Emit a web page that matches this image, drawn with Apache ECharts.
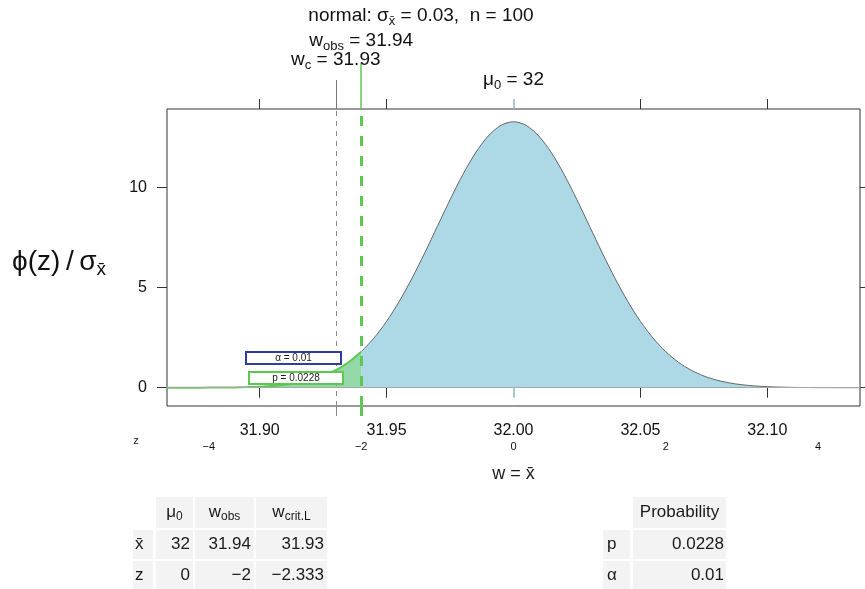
<!DOCTYPE html>
<html>
<head>
<meta charset="utf-8">
<script src="https://cdn.jsdelivr.net/npm/echarts@6/dist/echarts.min.js"></script>
<style>
html,body{margin:0;padding:0;background:#fff;}
#main{width:865px;height:589px;}
</style>
</head>
<body>
<div id="main"></div>
<script>
// ---------- data ----------
const mu0 = 32;
const sigma = 0.03;
const nObs = 100;
const wObs = 31.94;
const wCrit = 31.93;
const pValue = '0.0228';
const alphaValue = '0.01';

const xGrid = [31.860,31.865,31.870,31.875,31.880,31.885,31.890,31.895,31.900,31.905,31.910,31.915,31.920,31.925,31.930,31.935,31.940,31.945,31.950,31.955,31.960,31.965,31.970,31.975,31.980,31.985,31.990,31.995,32.000,32.005,32.010,32.015,32.020,32.025,32.030,32.035,32.040,32.045,32.050,32.055,32.060,32.065,32.070,32.075,32.080,32.085,32.090,32.095,32.100,32.105,32.110,32.115,32.120,32.125,32.130,32.135,32.140];
const density = [0.0002,0.0005,0.0011,0.0023,0.0045,0.0086,0.0160,0.0291,0.0514,0.0884,0.1477,0.2402,0.3799,0.5843,0.8741,1.2717,1.7997,2.4768,3.3159,4.3172,5.4670,6.7332,8.0657,9.3969,10.6483,11.7356,12.5795,13.1147,13.2981,13.1147,12.5795,11.7356,10.6483,9.3969,8.0657,6.7332,5.4670,4.3172,3.3159,2.4768,1.7997,1.2717,0.8741,0.5843,0.3799,0.2402,0.1477,0.0884,0.0514,0.0291,0.0160,0.0086,0.0045,0.0023,0.0011,0.0005,0.0002];

const xTicks = [31.90, 31.95, 32.00, 32.05, 32.10];
const xTicksPlain = [31.90, 31.95, 32.05, 32.10];
const zTicks = [-4, -2, 0, 2, 4];
const zTickLabels = ['\u22124', '\u22122', '0', '2', '4'];
const yTicks = [0, 5, 10];

const tableHeader = ['{n|\u03bc}{s|0}', '{n|w}{s|obs}', '{n|w}{s|crit.L}'];
const tableRowNames = ['x\u0304', 'z'];
const tableXbarRow = ['32', '31.94', '31.93'];
const tableZRow = ['0', '\u22122', '\u22122.333'];
const probHeader = 'Probability';
const probNames = ['p', '\u03b1'];
const probValues = [pValue, alphaValue];

// ---------- layout ----------
const FONT = '"Liberation Sans", Arial, Helvetica, sans-serif';
const xMin = 31.8635, xMax = 32.1365;
const yMin = -0.915, yMax = 13.935;
const C_BLUE = '#ADD8E6';
const C_GREEN = '#5cc850';
const C_MINT = '#93d8a6';
const C_TICKBLUE = '#8fb4c6';
const C_GRAY = '#8a8a8a';

const leftPart = [], rightPart = [];
xGrid.forEach((x, i) => {
  if (x <= wObs + 1e-9) leftPart.push([x, density[i]]);
  if (x >= wObs - 1e-9) rightPart.push([x, density[i]]);
});
const zPos = zTicks.map(z => +(mu0 + z * sigma).toFixed(6));

function tickAxis(position, vals, color, len, width, label) {
  return {
    type: 'value', gridIndex: 0, position, min: xMin, max: xMax,
    axisLine: { show: false }, splitLine: { show: false },
    axisTick: vals ? { show: true, inside: false, customValues: vals, length: len, lineStyle: { color, width } } : { show: false },
    axisLabel: label || { show: false }
  };
}

const rich = {
  n: { fontSize: 17, fontFamily: FONT, fill: '#1a1a1a', lineHeight: 21 },
  s: { fontSize: 12, fontFamily: FONT, fill: '#1a1a1a', lineHeight: 10, verticalAlign: 'bottom' }
};
const richT = {
  n: { fontSize: 19, fontFamily: FONT, fill: '#111', lineHeight: 24 },
  s: { fontSize: 13, fontFamily: FONT, fill: '#111', lineHeight: 12, verticalAlign: 'bottom' }
};

const chart = echarts.init(document.getElementById('main'));
chart.setOption({
  animation: false,
  backgroundColor: '#fff',
  grid: { left: 167, right: 5, top: 109, bottom: 183, show: true, borderColor: '#333', borderWidth: 1, backgroundColor: 'transparent' },
  xAxis: [
    tickAxis('bottom', xTicksPlain, '#333', 10, 1, {
      show: true, customValues: xTicks, margin: 17, fontSize: 16, fontFamily: FONT, color: '#111',
      formatter: v => (+v).toFixed(2)
    }),
    tickAxis('bottom', [mu0], C_TICKBLUE, 10, 1.5),
    tickAxis('bottom', [wCrit], C_GRAY, 10, 1),
    tickAxis('bottom', [wObs], C_GREEN, 10, 3),
    tickAxis('bottom', null, '#333', 0, 1, {
      show: true, customValues: zPos, margin: 35, fontSize: 11, fontFamily: FONT, color: '#111',
      formatter: v => { const i = zPos.findIndex(p => Math.abs(p - v) < 1e-6); return i >= 0 ? zTickLabels[i] : ''; }
    }),
    tickAxis('top', xTicksPlain, '#333', 10, 1),
    tickAxis('top', [mu0], C_TICKBLUE, 10, 1.5),
    tickAxis('top', [wCrit], '#777', 29, 1),
    tickAxis('top', [wObs], C_GREEN, 46, 1.5)
  ],
  yAxis: [
    {
      type: 'value', position: 'left', min: yMin, max: yMax,
      axisLine: { show: false }, splitLine: { show: false },
      axisTick: { show: true, customValues: yTicks, length: 10, lineStyle: { color: '#333' } },
      axisLabel: { show: true, customValues: yTicks, margin: 20, fontSize: 16, fontFamily: FONT, color: '#111' }
    },
    {
      type: 'value', position: 'right', min: yMin, max: yMax,
      axisLine: { show: false }, splitLine: { show: false },
      axisTick: { show: true, customValues: yTicks, length: 10, lineStyle: { color: '#333' } },
      axisLabel: { show: false }
    }
  ],
  series: [
    {
      type: 'line', xAxisIndex: 0, yAxisIndex: 0, data: rightPart, symbol: 'none', smooth: 0.3,
      lineStyle: { color: '#666', width: 1 }, areaStyle: { color: C_BLUE, opacity: 1 }, z: 2,
      markLine: {
        silent: true, symbol: 'none', label: { show: false }, animation: false,
        data: [
          { yAxis: 0, lineStyle: { color: '#a8a8a8', width: 1, type: 'solid' } }
        ]
      }
    },
    {
      type: 'line', xAxisIndex: 0, yAxisIndex: 0, data: leftPart, symbol: 'none', smooth: 0.3,
      lineStyle: { color: C_GREEN, width: 2 }, areaStyle: { color: C_MINT, opacity: 1 }, z: 3,
      markLine: {
        silent: true, symbol: 'none', label: { show: false }, animation: false,
        data: [
          { xAxis: wCrit, lineStyle: { color: C_GRAY, width: 1, type: [5, 5] } },
          { xAxis: wObs, lineStyle: { color: C_GREEN, width: 3, type: [10, 10] } }
        ]
      }
    }
  ]
});

// ---------- annotations ----------
const px = v => chart.convertToPixel({ xAxisIndex: 0 }, v);
const g = [];
function txt(x, y, text, opts) {
  g.push({ type: 'text', x, y, silent: true, z: 100,
    style: Object.assign({ text, fontSize: 17, fontFamily: FONT, fill: '#1a1a1a', align: 'center', verticalAlign: 'middle' }, opts || {}) });
}
function rect(x, y, w, h, style) {
  g.push({ type: 'rect', silent: true, z: 90, shape: { x, y, width: w, height: h }, style });
}

txt(421, 16, `{n|normal: \u03c3}{s|x\u0304}{n| = ${sigma},  n = ${nObs}}`, { rich: richT });
txt(px(wObs), 41, `{n|w}{s|obs}{n| = ${wObs}}`, { rich: richT });
txt(px(wCrit), 60, `{n|w}{s|c}{n| = ${wCrit}}`, { rich: richT });
txt(px(mu0), 80, `{n|\u03bc}{s|0}{n| = ${mu0}}`, { rich: richT });

txt(59, 262, '{b|\u03d5(z)\u2009/\u2009\u03c3}{bs|x\u0304}', { rich: {
  b: { fontSize: 28, fontFamily: FONT, fill: '#111', lineHeight: 34 },
  bs: { fontSize: 19, fontFamily: FONT, fill: '#111', lineHeight: 18, verticalAlign: 'bottom' }
} });

txt(136, 441, 'z', { fontSize: 11 });
txt(px(mu0), 474, 'w = x\u0304', { fontSize: 18 });

// boxes
rect(246, 352, 95, 12, { fill: '#fff', stroke: '#2f3d9c', lineWidth: 2 });
txt(293.5, 358.5, '\u03b1 = ' + alphaValue, { fontSize: 10 });
rect(249, 372, 94, 12, { fill: '#fff', stroke: C_GREEN, lineWidth: 2 });
txt(296, 378.5, 'p = ' + pValue, { fontSize: 10 });

// left table
const CELL = '#f3f3f3';
const cols = [[156, 193], [195, 254], [256, 327]];
const rows = [[497, 528], [530, 559], [561, 589]];
const labCol = [133, 153];
tableHeader.forEach((h, j) => {
  rect(cols[j][0], rows[0][0], cols[j][1] - cols[j][0], rows[0][1] - rows[0][0], { fill: CELL });
  txt((cols[j][0] + cols[j][1]) / 2, (rows[0][0] + rows[0][1]) / 2, h, { rich });
});
[tableXbarRow, tableZRow].forEach((r, i) => {
  const rr = rows[i + 1];
  rect(labCol[0], rr[0], labCol[1] - labCol[0], rr[1] - rr[0], { fill: CELL });
  txt(labCol[0] + 2, (rr[0] + rr[1]) / 2, tableRowNames[i], { align: 'left' });
  r.forEach((v, j) => {
    rect(cols[j][0], rr[0], cols[j][1] - cols[j][0], rr[1] - rr[0], { fill: CELL });
    txt(cols[j][1] - 3, (rr[0] + rr[1]) / 2, v, { align: 'right' });
  });
});

// right table
const pLab = [603, 630], pVal = [633, 726];
rect(pVal[0], rows[0][0], pVal[1] - pVal[0], rows[0][1] - rows[0][0], { fill: CELL });
txt((pVal[0] + pVal[1]) / 2, (rows[0][0] + rows[0][1]) / 2, probHeader);
probNames.forEach((nm, i) => {
  const rr = rows[i + 1];
  rect(pLab[0], rr[0], pLab[1] - pLab[0], rr[1] - rr[0], { fill: CELL });
  txt(pLab[0] + 4, (rr[0] + rr[1]) / 2, nm, { align: 'left' });
  rect(pVal[0], rr[0], pVal[1] - pVal[0], rr[1] - rr[0], { fill: CELL });
  txt(pVal[1] - 2, (rr[0] + rr[1]) / 2, probValues[i], { align: 'right' });
});

chart.setOption({ graphic: { elements: g } });
</script>
</body>
</html>
